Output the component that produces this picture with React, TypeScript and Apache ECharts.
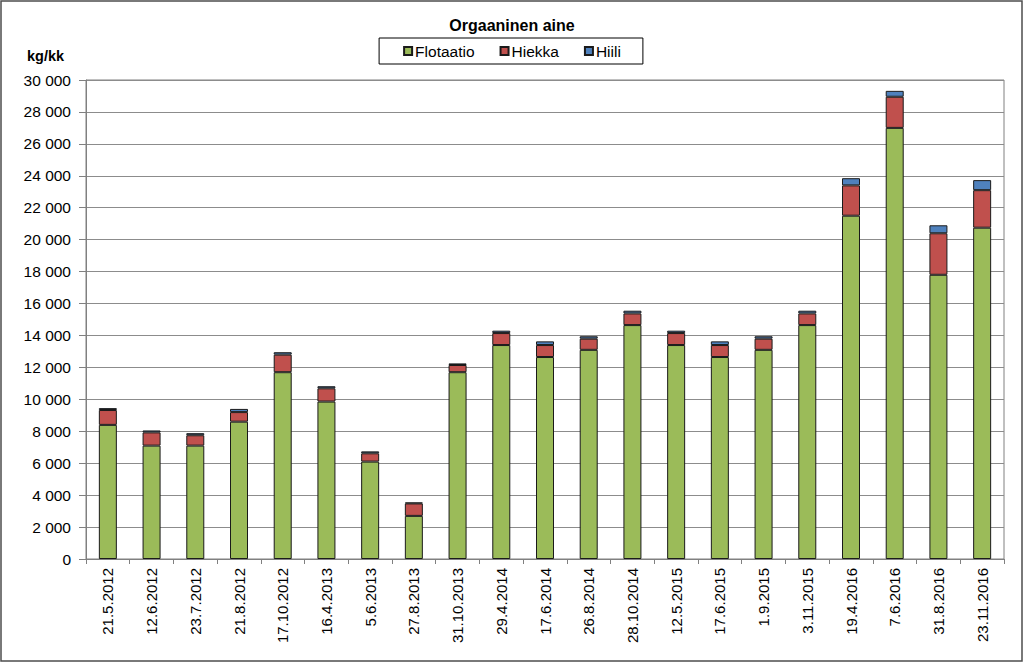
import React, { useEffect, useRef } from "react";
import * as echarts from "echarts";

const categories = [
  "21.5.2012", "12.6.2012", "23.7.2012", "21.8.2012", "17.10.2012", "16.4.2013",
  "5.6.2013", "27.8.2013", "31.10.2013", "29.4.2014", "17.6.2014", "26.8.2014",
  "28.10.2014", "12.5.2015", "17.6.2015", "1.9.2015", "3.11.2015", "19.4.2016",
  "7.6.2016", "31.8.2016", "23.11.2016",
];
const flotaatio = [8400, 7100, 7100, 8600, 11700, 9860, 6100, 2700, 11700, 13400, 12650, 13100, 14650, 13400, 12650, 13100, 14650, 21500, 27000, 17800, 20750];
const hiekka = [930, 830, 650, 600, 1100, 830, 520, 780, 450, 750, 750, 700, 730, 750, 750, 700, 730, 1900, 1950, 2600, 2350];
const hiili = [120, 120, 130, 200, 150, 130, 120, 60, 100, 150, 230, 150, 170, 150, 230, 150, 170, 450, 370, 500, 630];
const seriesNames = ["Flotaatio", "Hiekka", "Hiili"];
const colors = ["#9BBB59", "#C0504D", "#4F81BD"];

const FONT = "'Liberation Sans', Arial, sans-serif";

function fmt(v: number): string {
  const s = String(Math.round(v));
  return s.replace(/\B(?=(\d{3})+(?!\d))/g, " ");
}

export default function App() {
  const ref = useRef<HTMLDivElement>(null);
  useEffect(() => {
    document.body.style.margin = "0";
    if (!ref.current) return;
    const chart = echarts.init(ref.current, null, { renderer: "svg" });
    const data = [flotaatio, hiekka, hiili];
    chart.setOption({
      animation: false,
      backgroundColor: "#ffffff",
      textStyle: { fontFamily: FONT },
      title: {
        text: "Orgaaninen aine",
        left: "center",
        top: 12,
        textStyle: { fontFamily: FONT, fontSize: 16, fontWeight: "bold", color: "#000" },
      },
      legend: {
        top: 38,
        left: "center",
        data: seriesNames,
        itemWidth: 8,
        itemHeight: 8,
        itemGap: 25,
        borderColor: "#000",
        borderWidth: 1,
        padding: [5, 22, 5, 24],
        icon: "rect",
        textStyle: { fontFamily: FONT, fontSize: 15.5, color: "#000", padding: [0, 0, 0, -2] },
      },
      graphic: [
        {
          type: "rect",
          shape: { x: 1, y: 1, width: 1021, height: 660 },
          style: { fill: "none", stroke: "#4d4d4d", lineWidth: 1.5 },
          silent: true,
        },
        {
          type: "text",
          x: 27,
          y: 48,
          style: { text: "kg/kk", font: "bold 14.5px " + FONT, fill: "#000" },
        },
      ],
      grid: {
        left: 86,
        right: 20,
        top: 80,
        bottom: 110,
        show: true,
        borderColor: "#808080",
        borderWidth: 1,
      },
      xAxis: {
        type: "category",
        data: categories,
        axisLine: { lineStyle: { color: "#808080" } },
        axisTick: { show: true, length: 5, lineStyle: { color: "#808080" } },
        axisLabel: { rotate: 90, fontSize: 15, color: "#000", margin: 9, fontFamily: FONT },
      },
      yAxis: {
        type: "value",
        min: 0,
        max: 30000,
        interval: 2000,
        axisLine: { show: true, lineStyle: { color: "#808080" } },
        axisTick: { show: true, length: 7, lineStyle: { color: "#808080" } },
        splitLine: { lineStyle: { color: "#8c8c8c", width: 1 } },
        axisLabel: { fontSize: 15.5, color: "#000", margin: 15, fontFamily: FONT, formatter: (v: number) => fmt(v) },
      },
      series: seriesNames.map((name, i) => ({
        name,
        type: "bar",
        stack: "total",
        barWidth: 18,
        data: data[i],
        itemStyle: { color: colors[i], borderColor: "#1a1a1a", borderWidth: 1 },
      })),
    });
    return () => chart.dispose();
  }, []);
  return <div ref={ref} style={{ width: 1024, height: 669 }} />;
}
